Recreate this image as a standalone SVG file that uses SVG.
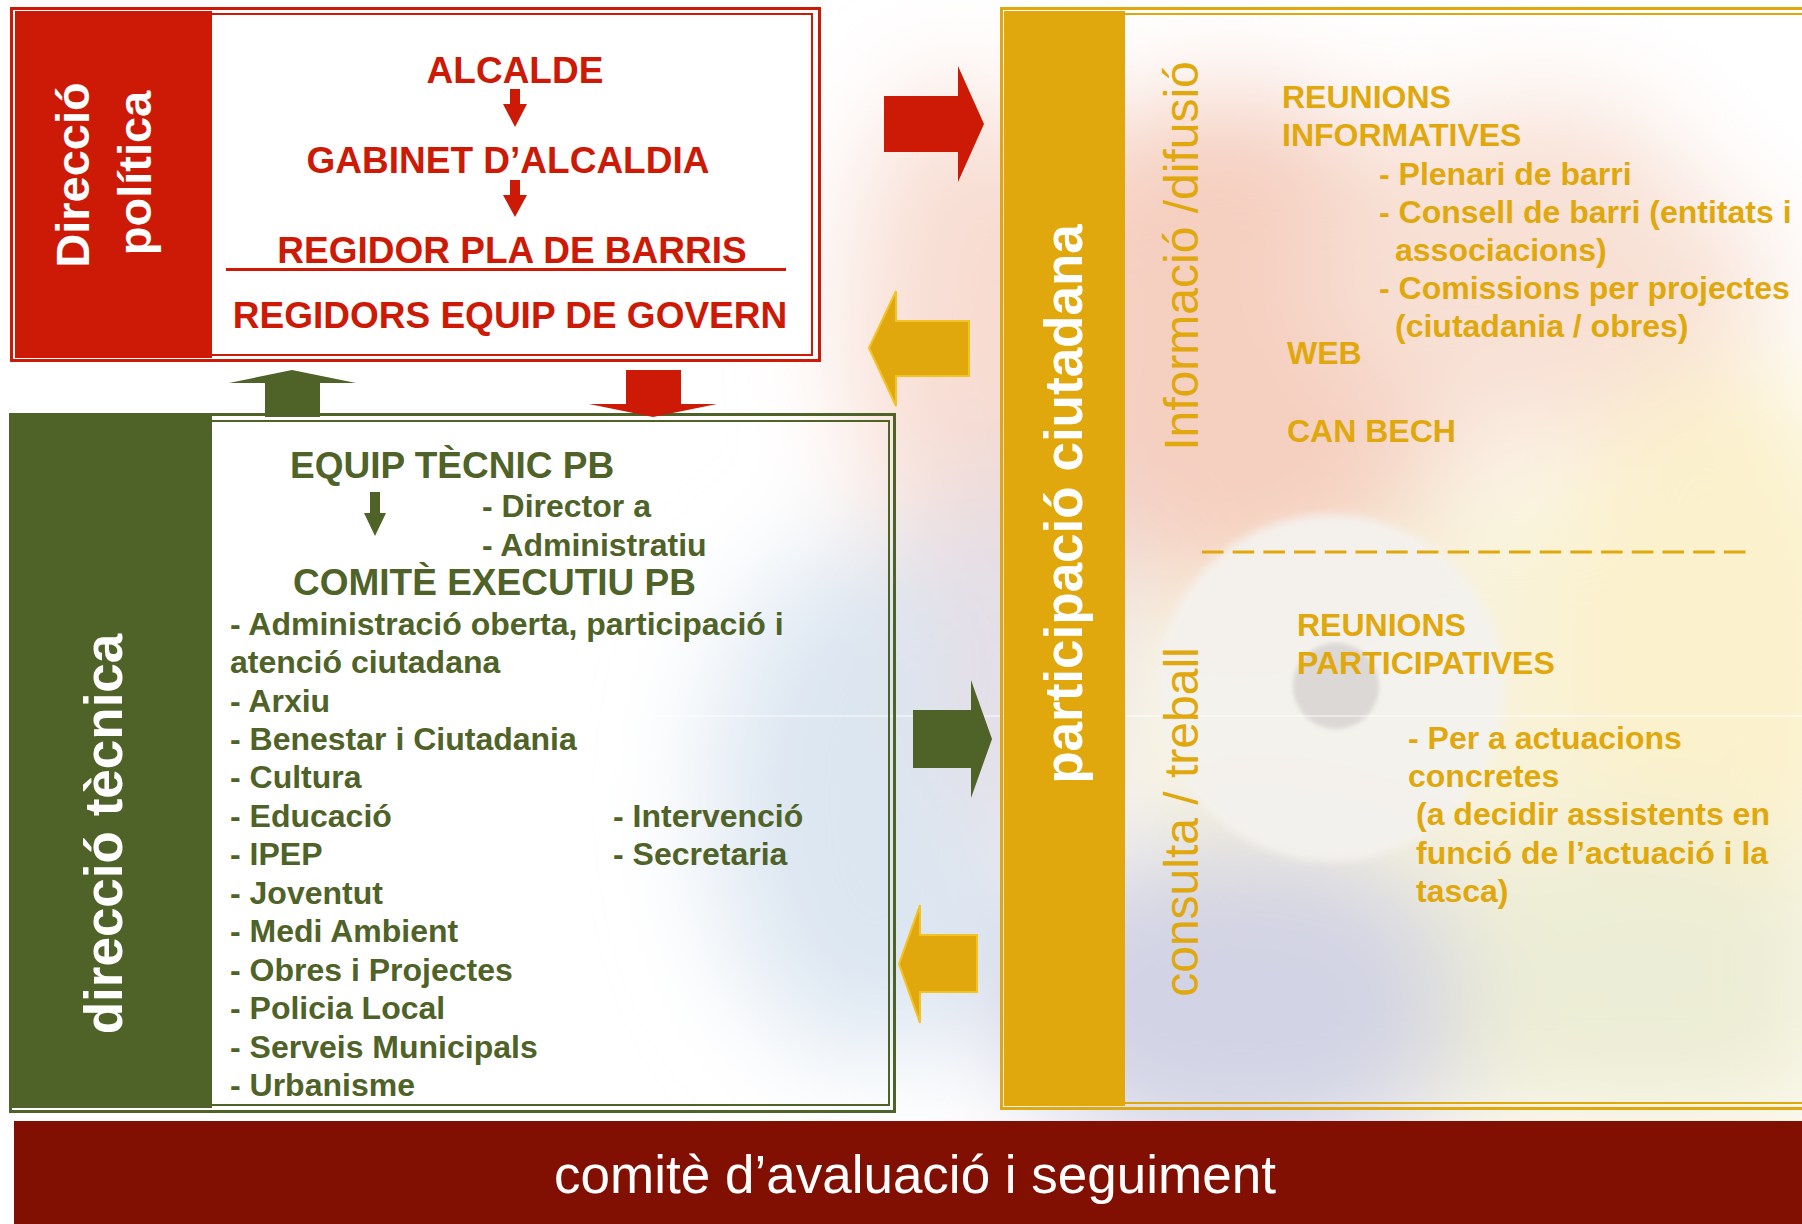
<svg xmlns="http://www.w3.org/2000/svg" width="1802" height="1224" viewBox="0 0 1802 1224">
<defs>
<style>
text{font-family:"Liberation Sans",Arial,Helvetica,sans-serif}
.rd{font-weight:bold;font-size:37px;fill:#CC1A06;text-anchor:middle}
.gh{font-weight:bold;font-size:37px;fill:#4F6228}
.gt{font-weight:bold;font-size:32px;fill:#4F6228}
.yt{font-weight:bold;font-size:32px;fill:#E0A80C}
.yv{font-size:48px;fill:#E0A80C;text-anchor:middle}
.wv{font-weight:bold;fill:#FFFFFF;text-anchor:middle}
.yarrow{fill:#E0A80C;stroke:#F3C326;stroke-width:2}
</style>
<filter id="blurBig" x="-30%" y="-30%" width="160%" height="160%"><feGaussianBlur stdDeviation="55"/></filter>
<filter id="blurMid" x="-20%" y="-20%" width="140%" height="140%"><feGaussianBlur stdDeviation="5"/></filter>
<filter id="blurSm" x="-20%" y="-20%" width="140%" height="140%"><feGaussianBlur stdDeviation="2"/></filter>
</defs>
<rect x="0" y="0" width="1802" height="1224" fill="#FFFFFF"/>
<g id="background">
<g filter="url(#blurBig)">
<rect x="1130" y="480" width="720" height="660" fill="#F8F3DC"/>
<ellipse cx="1230" cy="340" rx="240" ry="250" fill="#F5CFC0"/>
<ellipse cx="1540" cy="270" rx="230" ry="170" fill="#F8E0D4"/>
<ellipse cx="960" cy="330" rx="110" ry="250" fill="#F8DDD3"/>
<ellipse cx="1450" cy="0" rx="420" ry="80" fill="#FFFFFF"/>
<ellipse cx="1790" cy="90" rx="140" ry="140" fill="#FFFFFF"/>
<ellipse cx="1720" cy="640" rx="170" ry="280" fill="#FBF1CC"/>
<ellipse cx="1240" cy="1000" rx="250" ry="160" fill="#D2D3E4"/>
<ellipse cx="870" cy="800" rx="160" ry="260" fill="#DCE6F1"/>
<ellipse cx="1020" cy="650" rx="90" ry="200" fill="#E4DEE6"/>
<ellipse cx="1640" cy="970" rx="200" ry="140" fill="#ECEDD6"/>
</g>
<circle cx="1331" cy="688" r="174" fill="#F4F2EE" opacity="0.94" filter="url(#blurMid)"/>
<circle cx="1336" cy="686" r="43" fill="#DBD8D5" filter="url(#blurSm)"/>
<line x1="630" y1="716" x2="1802" y2="716" stroke="#FFFFFF" stroke-opacity="0.6" stroke-width="1.5"/>
</g>
<g id="node-direccio-politica">
<rect x="11.5" y="8.5" width="808" height="352" fill="#FFFFFF" stroke="#CC1A06" stroke-width="3"/>
<rect x="16" y="14" width="796" height="341" fill="none" stroke="#CC1A06" stroke-width="2"/>
<rect x="15" y="11" width="197" height="347" fill="#CC1A06"/>
<text class="wv" font-size="47" transform="translate(89,175) rotate(-90)">Direcció</text>
<text class="wv" font-size="47" transform="translate(151,173) rotate(-90)">política</text>
<text class="rd" x="515" y="83">ALCALDE</text>
<path d="M510 89 H520 V104 H527 L515 127 L503 104 H510 Z" fill="#CC1A06"/>
<text class="rd" x="508" y="173">GABINET D’ALCALDIA</text>
<path d="M510 180 H520 V195 H527 L515 217 L503 195 H510 Z" fill="#CC1A06"/>
<text class="rd" x="512" y="263">REGIDOR PLA DE BARRIS</text>
<line x1="226" y1="269.5" x2="786" y2="269.5" stroke="#CC1A06" stroke-width="3"/>
<text class="rd" x="510" y="328">REGIDORS EQUIP DE GOVERN</text>
</g>
<g id="node-direccio-tecnica">
<rect x="10.5" y="414.5" width="884" height="697" fill="none" stroke="#4F6228" stroke-width="3"/>
<rect x="16" y="421" width="873" height="684" fill="none" stroke="#4F6228" stroke-width="2"/>
<rect x="11" y="414" width="201" height="694" fill="#4F6228"/>
<text class="wv" font-size="53" transform="translate(122,834) rotate(-90)">direcció tècnica</text>
<text class="gh" x="290" y="478">EQUIP TÈCNIC PB</text>
<path d="M370 492 H380 V513 H386 L375 536 L364 513 H370 Z" fill="#4F6228"/>
<text class="gt" x="482" y="517">- Director a</text>
<text class="gt" x="482" y="556">- Administratiu</text>
<text class="gh" x="293" y="595">COMITÈ EXECUTIU PB</text>
<text class="gt" x="230" y="635">- Administració oberta, participació i</text>
<text class="gt" x="230" y="673">atenció ciutadana</text>
<text class="gt" x="230" y="712">- Arxiu</text>
<text class="gt" x="230" y="750">- Benestar i Ciutadania</text>
<text class="gt" x="230" y="788">- Cultura</text>
<text class="gt" x="230" y="827">- Educació</text>
<text class="gt" x="230" y="865">- IPEP</text>
<text class="gt" x="230" y="904">- Joventut</text>
<text class="gt" x="230" y="942">- Medi Ambient</text>
<text class="gt" x="230" y="981">- Obres i Projectes</text>
<text class="gt" x="230" y="1019">- Policia Local</text>
<text class="gt" x="230" y="1058">- Serveis Municipals</text>
<text class="gt" x="230" y="1096">- Urbanisme</text>
<text class="gt" x="613" y="827">- Intervenció</text>
<text class="gt" x="613" y="865">- Secretaria</text>
</g>
<g id="node-participacio-ciutadana">
<rect x="1001.5" y="8.5" width="900" height="1100" fill="none" stroke="#E0A80C" stroke-width="3"/>
<rect x="1007" y="14" width="900" height="1089" fill="none" stroke="#E0A80C" stroke-width="2"/>
<rect x="1004" y="11" width="121" height="1095" fill="#E0A80C"/>
<text class="wv" font-size="53" transform="translate(1082,504) rotate(-90)">participació ciutadana</text>
<text class="yv" transform="translate(1198,256) rotate(-90)">Informació /difusió</text>
<text class="yv" transform="translate(1198,822) rotate(-90)">consulta / treball</text>
<text class="yt" x="1282" y="108">REUNIONS</text>
<text class="yt" x="1282" y="146">INFORMATIVES</text>
<text class="yt" x="1379" y="185">- Plenari de barri</text>
<text class="yt" x="1379" y="223">- Consell de barri (entitats i</text>
<text class="yt" x="1395" y="261">associacions)</text>
<text class="yt" x="1379" y="299">- Comissions per projectes</text>
<text class="yt" x="1395" y="337">(ciutadania / obres)</text>
<text class="yt" x="1287" y="364">WEB</text>
<text class="yt" x="1287" y="442">CAN BECH</text>
<line x1="1202" y1="552" x2="1750" y2="552" stroke="#E0A80C" stroke-width="3" stroke-dasharray="21.5 9.2"/>
<text class="yt" x="1297" y="636">REUNIONS</text>
<text class="yt" x="1297" y="674">PARTICIPATIVES</text>
<text class="yt" x="1408" y="749">- Per a actuacions</text>
<text class="yt" x="1408" y="787">concretes</text>
<text class="yt" x="1416" y="825">(a decidir assistents en</text>
<text class="yt" x="1416" y="864">funció de l’actuació i la</text>
<text class="yt" x="1416" y="902">tasca)</text>
</g>
<g id="node-comite-avaluacio">
<rect x="14" y="1121" width="1788" height="103" fill="#821002"/>
<text x="915" y="1193" font-size="53" fill="#FFFFFF" text-anchor="middle">comitè d’avaluació i seguiment</text>
</g>
<g id="connectors">
<polygon points="265,417 265,383 229,383 292,370 356,383 320,383 320,417" fill="#4F6228"/>
<polygon points="626,370 681,370 681,404 717,404 653,417 589,404 626,404" fill="#CC1A06"/>
<polygon points="884,96 958,96 958,66 984,124 958,182 958,152 884,152" fill="#CC1A06"/>
<polygon class="yarrow" points="969,321 896,321 896,291 869,348 896,406 896,376 969,376"/>
<polygon points="913,710 971,710 971,680 992,739 971,798 971,768 913,768" fill="#4F6228"/>
<polygon class="yarrow" points="977,935 920,935 920,905 899,964 920,1023 920,992 977,992"/>
</g>
</svg>
